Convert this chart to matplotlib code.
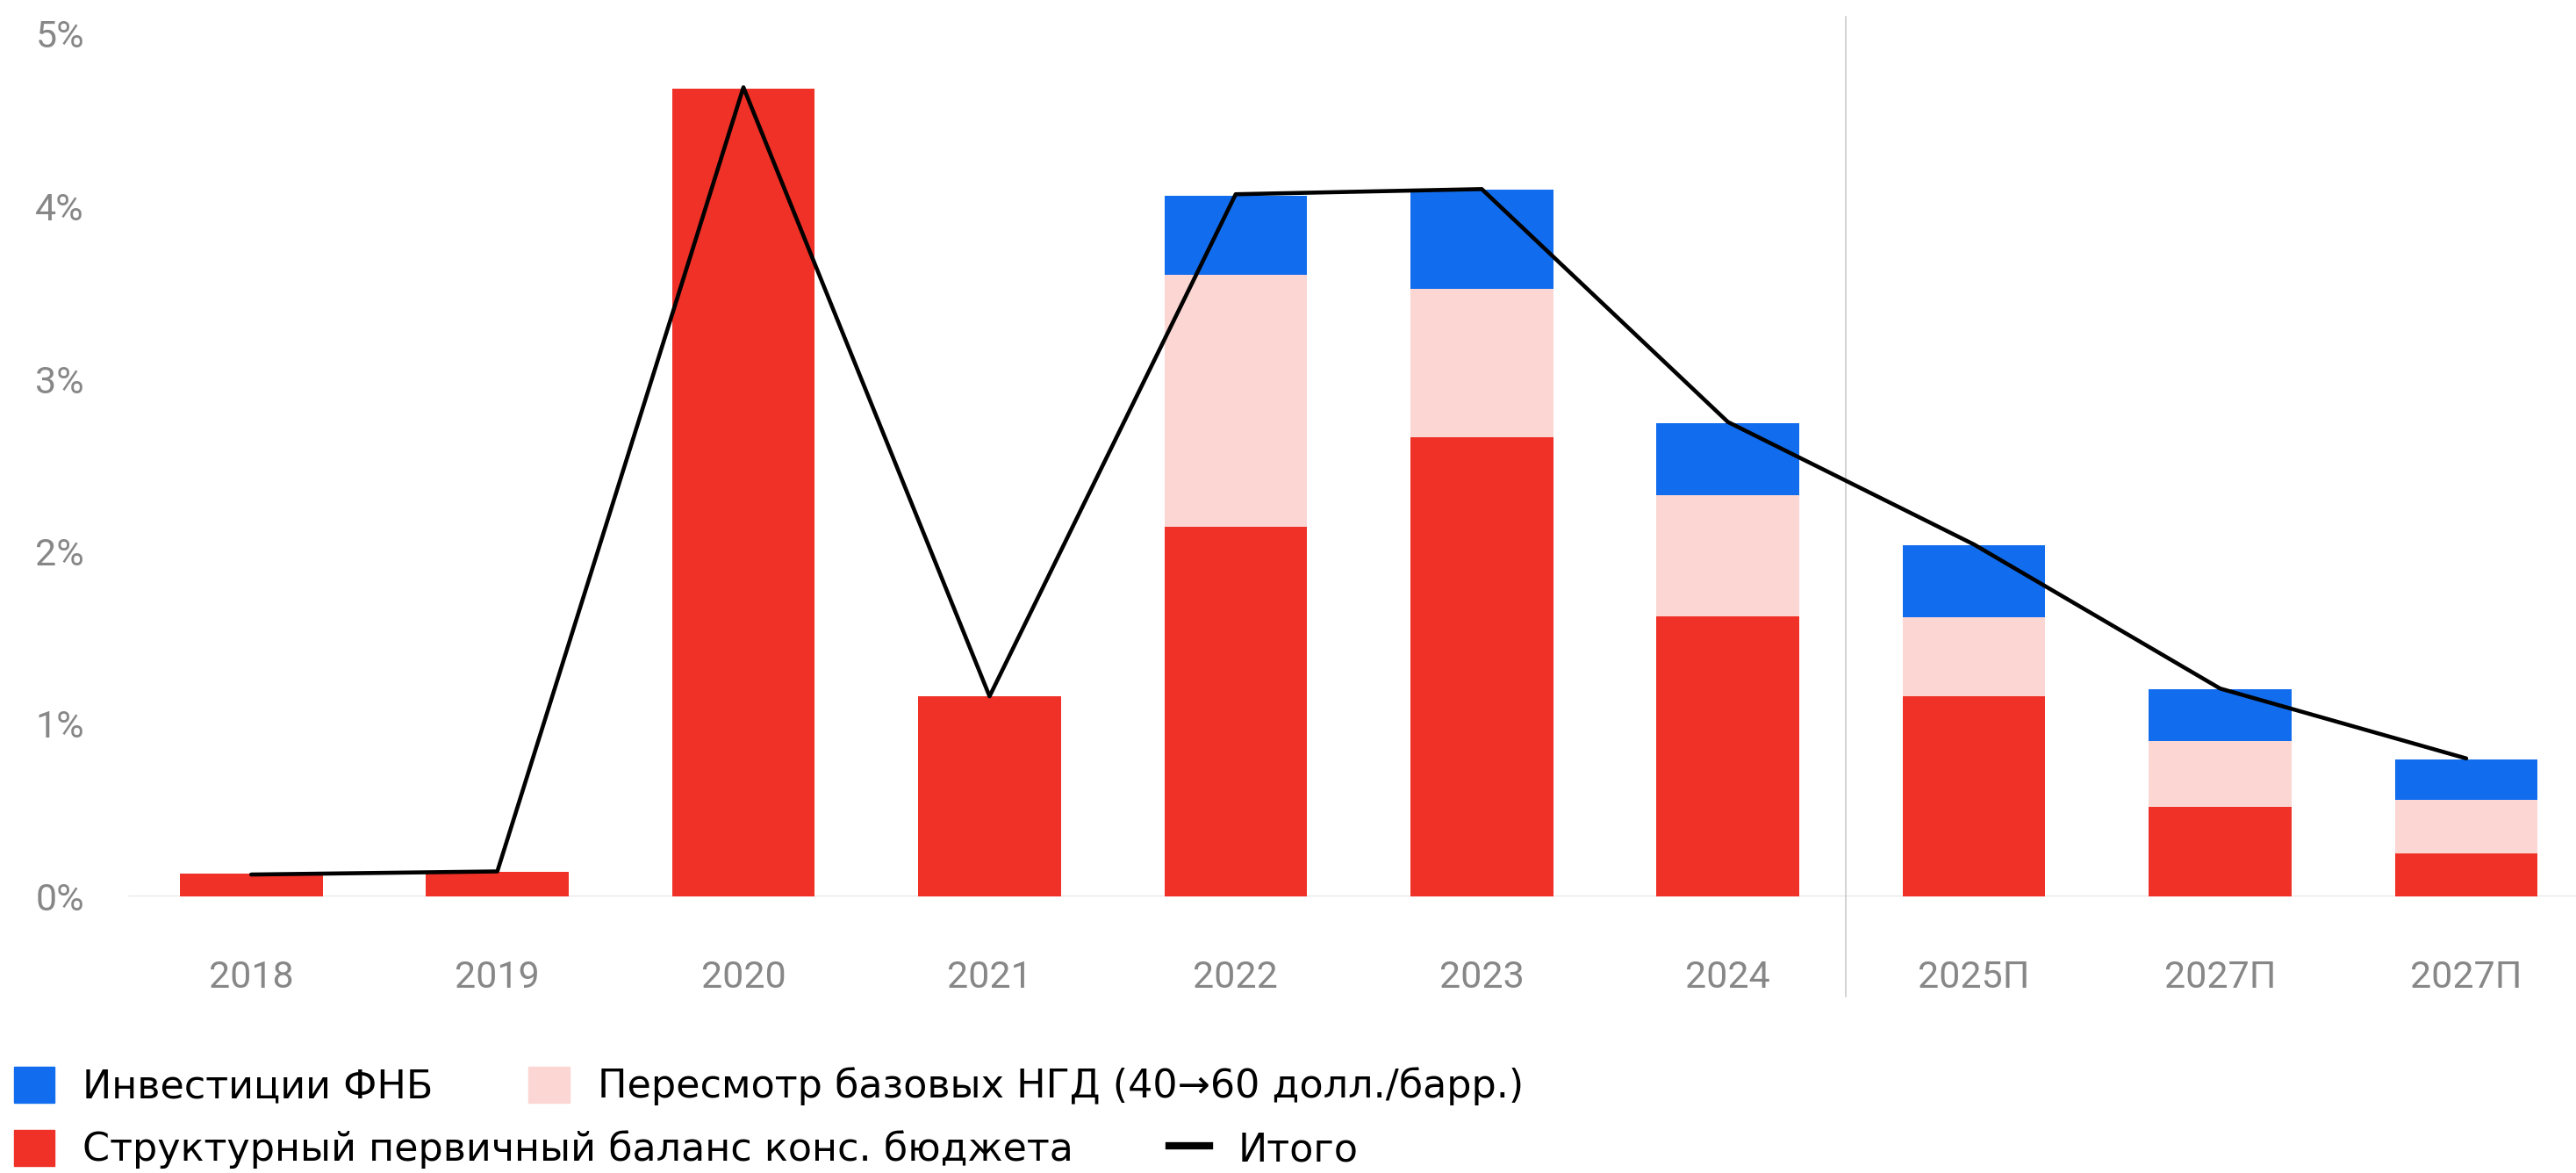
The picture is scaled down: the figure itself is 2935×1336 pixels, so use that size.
import matplotlib
matplotlib.use('Agg')
import numpy as np
import matplotlib.pyplot as plt
from matplotlib.patches import Patch
from matplotlib.lines import Line2D

# years / forecast labels
years = ['2018', '2019', '2020', '2021', '2022', '2023', '2024', '2025П', '2027П', '2027П']

# components, % of GDP
struct_balance = [0.13, 0.145, 4.68, 1.16, 2.145, 2.66, 1.625, 1.16, 0.52, 0.25]
ngd_revision   = [0.0, 0.0, 0.0, 0.0, 1.46, 0.86, 0.70, 0.46, 0.38, 0.31]
fnb_invest     = [0.0, 0.0, 0.0, 0.0, 0.455, 0.575, 0.42, 0.415, 0.30, 0.235]
total          = [0.127, 0.145, 4.69, 1.16, 4.07, 4.10, 2.75, 2.04, 1.205, 0.80]

y_ticks  = [0, 1, 2, 3, 4, 5]

# colours
c_red   = '#ef3127'
c_pink  = '#fbd6d3'
c_blue  = '#116dee'
c_grey  = '#878787'

tick_font = 'Roboto'
leg_font  = 'DejaVu Sans'

fig = plt.figure( figsize = ( 29.35, 13.36 ), dpi = 100 )
ax = fig.add_axes( [ 146 / 2935, 315 / 1336, 1 - 146 / 2935, 982.5 / 1336 ] )

x = np.arange( len( years ) )
w = 0.58
red  = np.array( struct_balance )
pink = np.array( ngd_revision )
blue = np.array( fnb_invest )

ax.bar( x, red, w, color = c_red, zorder = 2 )
ax.bar( x, pink, w, bottom = red, color = c_pink, zorder = 2 )
ax.bar( x, blue, w, bottom = red + pink, color = c_blue, zorder = 2 )
ax.plot( x, total, color = 'black', lw = 3.3, solid_capstyle = 'round',
         solid_joinstyle = 'round', zorder = 4 )

# baseline and fact / forecast divider
ax.axhline( 0, color = '#dadada', lw = 1.1, zorder = 1 )
ax.plot( [ 6.478, 6.478 ], [ -0.58, 5.1 ], color = '#c8c8c8', lw = 1.1,
         clip_on = False, zorder = 1 )

ax.set_xlim( -0.5, 9.446 )
ax.set_ylim( 0, 5 )
ax.set_xticks( x )
ax.set_xticklabels( years )
ax.set_yticks( y_ticks )
ax.set_yticklabels( [ str( v ) + '%' for v in y_ticks ] )
ax.tick_params( axis = 'both', length = 0, colors = c_grey, labelsize = 31 )
ax.tick_params( axis = 'y', pad = 36 )
ax.tick_params( axis = 'x', pad = 52 )
for lab in ax.get_xticklabels() + ax.get_yticklabels():
    lab.set_fontfamily( tick_font )
for s in ax.spines.values():
    s.set_visible( False )

# legend, two rows
leg_kw = dict( frameon = False, ncol = 2, handlelength = 1.04, handleheight = 1.04,
               handletextpad = 0.72, columnspacing = 2.45, borderpad = 0, borderaxespad = 0,
               prop = { 'family': leg_font, 'size': 32 }, loc = 'center left' )
row1 = [ Patch( color = c_blue, label = 'Инвестиции ФНБ' ),
         Patch( color = c_pink, label = 'Пересмотр базовых НГД (40→60 долл./барр.)' ) ]
row2 = [ Patch( color = c_red, label = 'Структурный первичный баланс конс. бюджета' ),
         Line2D( [], [], color = 'black', lw = 6, label = 'Итого' ) ]
l1 = fig.legend( handles = row1, bbox_to_anchor = ( 16 / 2935, 1 - 1237 / 1336 ), **leg_kw )
l2 = fig.legend( handles = row2, bbox_to_anchor = ( 16 / 2935, 1 - 1309 / 1336 ), **leg_kw )

fig.savefig( 'out.png', dpi = 100, facecolor = 'white' )
